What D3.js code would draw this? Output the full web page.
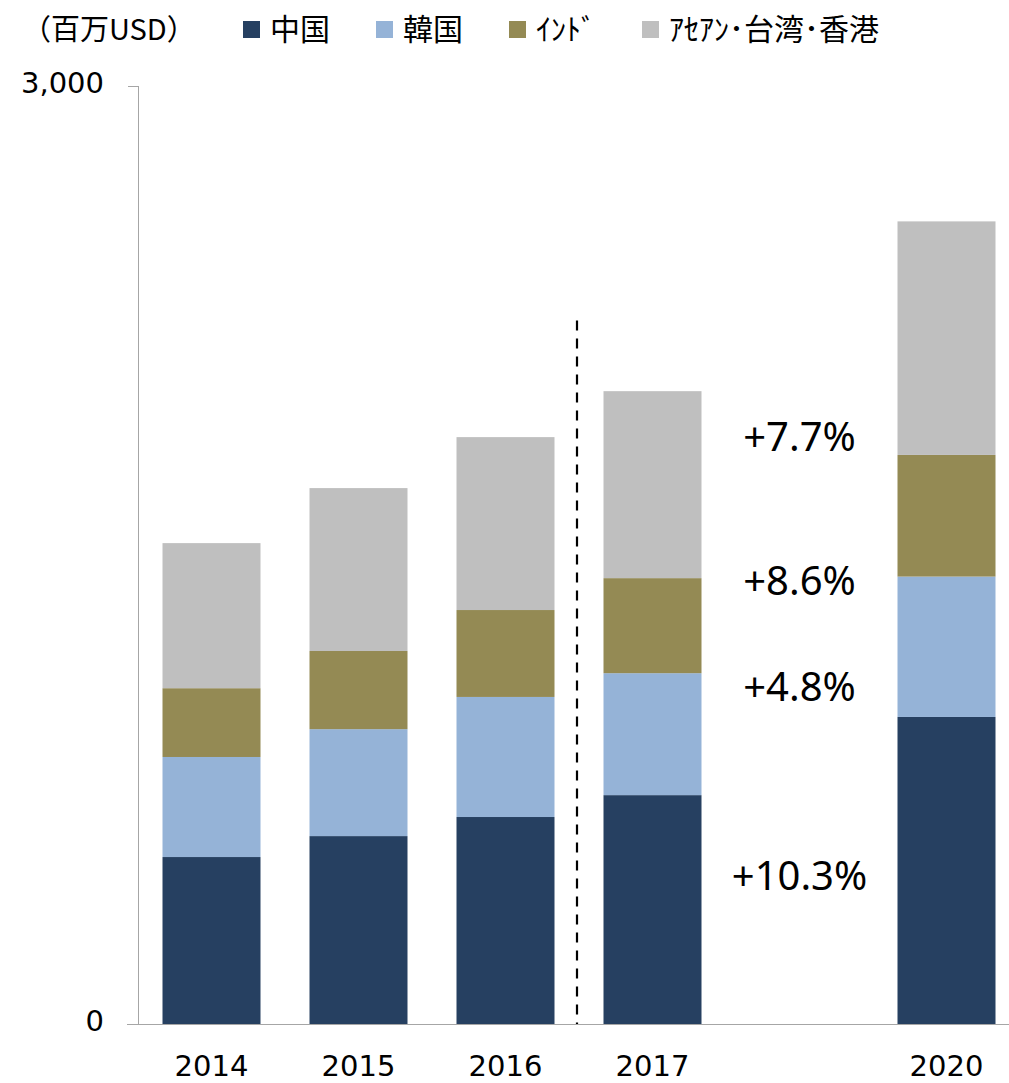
<!DOCTYPE html>
<html>
<head>
<meta charset="utf-8">
<script src="https://cdn.jsdelivr.net/npm/d3@7"></script>
<style>
  html, body { margin: 0; padding: 0; background: #fff; }
  svg { display: block; }
</style>
</head>
<body>
<svg id="chart" width="1009" height="1083"></svg>
<script>
// Export values by destination (million USD)
const slots = ["2014", "2015", "2016", "2017", "", "2020"];
const years = ["2014", "2015", "2016", "2017", "2020"];
const china = [534, 601, 662, 732, 982];
const korea = [320, 342, 384, 390, 449];
const india = [220, 250, 278, 304, 389];
const asean = [464, 521, 553, 598, 747];

const seriesNames = ["中国", "韓国", "ｲﾝﾄﾞ", "ｱｾｱﾝ･台湾･香港"];
const seriesColors = ["#264061", "#95B3D7", "#948A54", "#BFBFBF"];
// Annual growth 2017 → 2020, bottom to top
const growthLabels = ["+10.3%", "+4.8%", "+8.6%", "+7.7%"];
const yTicks = [0, 3000];
const unitLabel = "（百万USD）";

const svg = d3.select("#chart");
const W = 1009, H = 1083;

const x = d3.scaleBand().domain(slots).range([138, 1020])
  .paddingInner(1 / 3).paddingOuter(1 / 6);
const y = d3.scaleLinear().domain([0, 3000]).range([1024, 86]);

const keys = ["china", "korea", "india", "asean"];
const rows = years.map((yr, i) => ({
  year: yr, china: china[i], korea: korea[i], india: india[i], asean: asean[i]
}));
const stacked = d3.stack().keys(keys)(rows);

// Bars
svg.append("g").selectAll("g").data(stacked).join("g")
  .attr("fill", (d, i) => seriesColors[i])
  .selectAll("rect").data(d => d).join("rect")
  .attr("x", d => x(d.data.year))
  .attr("width", x.bandwidth())
  .attr("y", d => y(d[1]))
  .attr("height", d => y(d[0]) - y(d[1]));

// Axes
const axisColor = "#A6A6A6";
svg.append("line")
  .attr("x1", x.range()[0] + 0.5).attr("x2", x.range()[0] + 0.5)
  .attr("y1", y(3000)).attr("y2", y(0))
  .attr("stroke", axisColor).attr("stroke-width", 1);
svg.append("line")
  .attr("x1", 127).attr("x2", W)
  .attr("y1", y(0) + 0.5).attr("y2", y(0) + 0.5)
  .attr("stroke", axisColor).attr("stroke-width", 1);
svg.append("line")
  .attr("x1", 128).attr("x2", x.range()[0] + 0.5)
  .attr("y1", y(3000) + 0.5).attr("y2", y(3000) + 0.5)
  .attr("stroke", axisColor).attr("stroke-width", 1);

const numFont = "'DejaVu Sans', Verdana, sans-serif";
svg.append("g").selectAll("text").data(yTicks).join("text")
  .attr("x", 104)
  .attr("y", d => y(d) - 3)
  .attr("dy", "0.36em")
  .attr("text-anchor", "end")
  .attr("font-family", numFont)
  .attr("font-size", 29)
  .attr("fill", "#000")
  .text(d => d3.format(",")(d));

svg.append("g").selectAll("text").data(slots.filter(s => s !== "")).join("text")
  .attr("x", d => x(d) + x.bandwidth() / 2)
  .attr("y", 1076)
  .attr("text-anchor", "middle")
  .attr("font-family", numFont)
  .attr("font-size", 29)
  .attr("fill", "#000")
  .text(d => d);

// Divider between actual and forecast years
const divX = (x("2016") + x.bandwidth() + x("2017")) / 2 - 2;
svg.append("line")
  .attr("x1", divX).attr("x2", divX)
  .attr("y1", y(2250)).attr("y2", y(0))
  .attr("stroke", "#000").attr("stroke-width", 2.2)
  .attr("stroke-dasharray", "10,8");

// Growth rate annotations in the gap column
const gapCx = x("") + x.bandwidth() / 2;
const labelCenters = [876, 687, 581, 437];
svg.append("g").selectAll("text").data(growthLabels).join("text")
  .attr("x", gapCx)
  .attr("y", (d, i) => labelCenters[i])
  .attr("dy", "0.36em")
  .attr("text-anchor", "middle")
  .attr("font-family", "'Noto Sans', 'Open Sans', sans-serif")
  .attr("font-size", 40)
  .attr("fill", "#000")
  .text(d => d);

// Legend
const jpFont = "'Noto Sans CJK JP', sans-serif";
svg.append("text")
  .attr("x", 22).attr("y", 40)
  .attr("font-family", jpFont).attr("font-size", 29)
  .attr("fill", "#000")
  .text(unitLabel);

const legendX = [243, 376, 509, 642];
const lg = svg.append("g").selectAll("g").data(seriesNames).join("g")
  .attr("transform", (d, i) => `translate(${legendX[i]},21)`);
lg.append("rect").attr("width", 17).attr("height", 17)
  .attr("fill", (d, i) => seriesColors[i]);
lg.append("text")
  .attr("x", 27).attr("y", 19)
  .attr("font-family", jpFont).attr("font-size", 30)
  .attr("fill", "#000")
  .text(d => d);
</script>
</body>
</html>
